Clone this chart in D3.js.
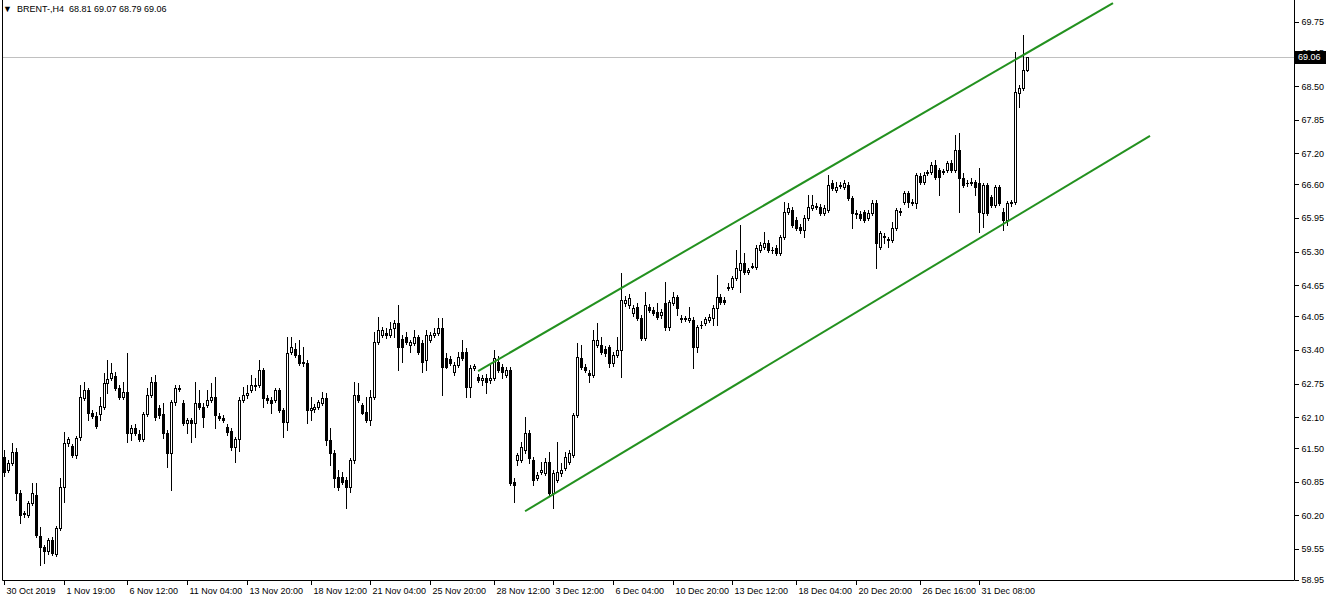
<!DOCTYPE html>
<html><head><meta charset="utf-8">
<script src="https://cdn.jsdelivr.net/npm/d3@7"></script>
<style>html,body{margin:0;padding:0;background:#fff;overflow:hidden}svg text{font-family:'Liberation Sans',Arial,sans-serif}</style>
</head><body>
<svg id="c" width="1332" height="601"></svg>
<script>
const symbolName = "BRENT-,H4";
const openP = [61.33,61.08,61.21,61.43,60.64,60.23,60.21,60.44,60.60,59.80,59.59,59.51,59.73,59.46,59.96,60.75,61.60,61.54,61.37,61.72,62.47,62.63,62.18,62.12,62.16,62.30,62.76,62.86,62.90,62.67,62.49,62.59,61.80,61.89,61.78,61.68,62.16,62.53,62.78,62.28,62.16,61.80,61.41,62.40,62.67,62.38,61.99,62.05,61.99,62.38,62.30,62.34,62.43,62.49,62.12,62.09,61.91,61.83,61.53,61.68,62.43,62.53,62.63,62.72,62.72,63.01,62.47,62.43,62.43,62.63,62.24,62.01,63.36,63.42,63.30,63.15,63.15,62.24,62.26,62.30,62.38,62.47,61.66,61.41,60.95,60.95,60.89,60.75,61.27,62.53,62.34,62.20,62.05,62.49,63.56,63.69,63.73,63.69,63.83,63.92,63.61,63.65,63.50,63.54,63.65,63.54,63.21,63.59,63.69,63.73,63.83,63.25,63.23,62.98,63.11,63.36,63.36,62.69,63.05,62.88,62.82,62.86,62.82,62.86,63.17,63.07,62.92,63.01,60.85,61.27,61.27,61.47,61.80,61.27,60.93,61.04,61.02,61.24,60.64,60.89,61.02,61.12,61.24,61.37,62.14,63.25,63.07,62.96,62.92,63.50,63.50,63.42,63.46,63.15,63.30,63.40,64.31,64.27,64.12,64.23,64.02,63.63,64.23,64.17,64.14,64.08,64.31,63.85,64.31,64.43,64.02,64.00,63.98,63.98,63.46,63.88,63.92,63.98,64.02,64.21,64.43,64.37,64.60,64.62,64.79,64.95,65.08,64.91,65.01,65.01,65.34,65.39,65.47,65.34,65.37,65.28,65.59,66.07,66.11,65.92,65.78,65.72,65.95,66.15,66.19,66.17,66.05,66.11,66.63,66.50,66.57,66.55,66.59,66.34,66.05,66.03,66.07,65.95,66.05,66.24,65.39,65.61,65.55,65.53,65.76,66.09,66.26,66.44,66.26,66.24,66.77,66.65,66.82,66.84,66.98,66.88,66.84,66.88,67.02,66.88,67.27,66.73,66.63,66.63,66.65,66.63,66.05,66.59,66.36,66.21,66.55,66.07,65.92,66.24,66.26,68.37,68.47,68.81];
const highP = [61.47,61.27,61.60,61.51,60.69,60.29,60.48,60.83,60.83,59.98,59.63,59.76,59.78,59.99,60.93,61.81,61.72,61.58,61.74,62.72,62.78,62.67,62.24,62.20,62.49,62.96,63.21,63.15,62.98,62.72,62.78,63.34,61.95,61.97,61.85,62.20,62.67,62.88,62.92,62.34,62.38,61.85,62.43,62.72,62.72,62.43,62.09,62.09,62.78,62.63,62.38,62.63,62.76,62.88,62.18,62.14,61.97,61.89,61.72,62.49,62.69,62.72,62.92,62.86,63.21,63.05,62.53,62.49,62.67,62.67,62.28,63.65,63.65,63.54,63.59,63.46,63.21,62.49,62.36,62.43,62.59,62.57,61.89,61.47,61.08,61.04,60.95,61.31,62.78,62.76,62.38,62.49,62.63,63.75,64.04,63.85,63.83,63.94,63.98,64.27,63.69,63.75,63.59,63.79,63.69,63.59,63.79,63.75,63.83,64.02,64.02,63.34,63.29,63.17,63.36,63.59,63.44,63.11,63.13,62.94,62.92,62.94,63.11,63.40,63.29,63.13,63.07,63.07,60.93,61.41,61.62,62.11,61.85,61.33,61.04,61.24,61.31,61.43,61.08,61.62,61.21,61.43,61.47,62.18,63.54,63.50,63.13,63.01,63.79,63.92,63.65,63.48,63.50,63.36,63.65,64.89,64.45,64.48,64.27,64.31,64.08,64.52,64.29,64.23,64.31,64.19,64.72,64.37,64.52,64.46,64.08,64.06,64.23,64.04,63.88,63.96,64.04,64.10,64.27,64.85,64.48,64.43,64.70,64.83,65.34,65.82,65.28,64.99,65.08,65.43,65.49,65.68,65.53,65.39,65.43,65.63,66.26,66.24,66.17,65.97,65.84,66.01,66.40,66.40,66.24,66.23,66.21,66.79,66.69,66.65,66.65,66.69,66.65,66.38,66.11,66.09,66.11,66.11,66.30,66.30,65.70,65.66,65.59,65.88,66.15,66.15,66.48,66.48,66.32,66.82,66.82,66.84,66.88,67.04,67.08,66.92,66.90,67.06,67.08,67.56,67.60,66.82,66.69,66.73,66.69,66.92,66.63,66.63,66.40,66.59,66.59,66.15,66.28,66.30,69.16,68.53,69.49,69.07];
const lowP = [60.96,61.04,61.18,60.50,60.05,60.17,60.17,60.40,59.78,59.24,59.28,59.46,59.44,59.42,59.92,60.46,61.54,61.33,61.31,61.66,62.43,62.05,62.09,61.89,62.05,62.26,62.57,62.82,62.63,62.45,62.45,61.62,61.66,61.76,61.64,61.64,62.12,62.49,62.05,62.09,61.70,61.14,60.69,62.34,62.61,61.95,61.80,61.62,61.72,62.26,61.91,62.30,62.40,61.89,62.05,62.01,61.76,61.47,61.23,61.45,62.40,62.47,62.59,62.63,62.69,62.30,62.38,62.18,62.40,62.20,61.72,61.85,63.32,63.27,63.11,63.09,61.99,62.05,62.20,62.26,62.34,61.56,61.18,60.75,60.69,60.81,60.35,60.65,61.21,62.40,62.16,62.01,61.95,62.45,63.52,63.65,63.63,63.65,63.65,63.01,63.17,63.52,63.36,63.50,63.32,62.98,63.01,63.56,63.65,63.69,62.53,63.05,63.11,62.92,63.07,63.21,62.49,62.49,63.01,62.78,62.72,62.57,62.76,62.82,62.98,62.86,62.88,60.79,60.46,61.18,61.24,61.41,61.22,60.79,60.89,61.00,60.98,60.60,60.35,60.85,60.96,61.08,61.20,61.33,62.10,63.03,62.98,62.78,62.88,63.46,63.32,63.29,63.07,63.09,63.27,62.88,64.25,64.21,64.06,63.98,63.59,63.59,64.14,64.08,64.00,64.02,63.79,63.79,64.27,64.08,63.94,63.96,63.94,63.05,63.36,63.83,63.88,63.94,63.88,63.88,64.29,64.29,64.56,64.58,64.75,64.52,64.87,64.87,64.99,64.97,65.30,65.35,65.30,65.28,65.24,65.24,65.55,66.03,65.78,65.72,65.66,65.59,65.92,66.11,66.13,66.01,66.01,66.07,66.50,66.46,66.53,66.51,66.30,65.76,65.95,65.92,65.88,65.92,66.01,64.99,65.35,65.47,65.39,65.49,65.72,66.01,66.22,66.17,66.21,66.15,66.61,66.61,66.79,66.80,66.71,66.40,66.80,66.84,66.84,66.84,66.07,66.55,66.57,66.59,66.40,65.68,65.78,66.01,66.17,66.17,66.21,65.72,65.82,66.19,66.22,68.10,68.43,68.79];
const closeP = [61.04,61.21,61.43,60.64,60.21,60.25,60.44,60.64,59.82,59.59,59.51,59.73,59.48,59.96,60.75,61.60,61.68,61.37,61.70,62.49,62.63,62.18,62.12,61.93,62.32,62.76,62.84,62.96,62.67,62.49,62.59,61.80,61.89,61.80,61.68,62.16,62.53,62.78,62.11,62.14,61.80,61.41,62.40,62.67,62.65,61.99,62.05,61.99,62.38,62.30,62.11,62.43,62.49,62.14,62.09,62.05,61.82,61.53,61.68,62.43,62.53,62.57,62.72,62.70,63.01,62.47,62.43,62.38,62.63,62.24,62.01,63.34,63.46,63.30,63.15,63.17,62.24,62.28,62.30,62.40,62.47,61.66,61.41,60.93,60.75,60.85,60.75,61.27,62.53,62.43,62.18,62.05,62.49,63.56,63.79,63.79,63.69,63.81,63.92,63.46,63.46,63.56,63.56,63.65,63.36,63.17,63.69,63.69,63.73,63.83,63.07,63.07,63.15,63.11,63.27,63.25,62.69,63.05,63.09,62.82,62.86,62.78,62.86,63.25,63.01,62.98,63.01,60.83,60.79,61.37,61.52,61.80,61.31,60.89,60.98,61.08,61.24,60.64,61.02,61.04,61.08,61.33,61.41,62.14,63.27,63.07,63.01,62.92,63.59,63.59,63.36,63.34,63.15,63.30,63.40,64.37,64.37,64.41,64.21,64.02,63.63,64.27,64.17,64.12,64.04,64.14,63.85,64.33,64.43,64.21,64.00,64.02,64.02,63.46,63.85,63.88,64.00,64.04,64.21,64.43,64.33,64.33,64.62,64.79,64.99,65.08,64.91,64.95,65.03,65.37,65.43,65.47,65.34,65.34,65.28,65.59,66.07,66.15,65.82,65.76,65.72,65.95,66.17,66.21,66.17,66.05,66.15,66.59,66.53,66.55,66.59,66.63,66.34,66.05,66.03,65.95,65.92,66.05,66.24,65.47,65.66,65.59,65.53,65.76,66.11,66.07,66.44,66.26,66.24,66.79,66.65,66.79,66.84,66.98,66.75,66.75,66.86,67.02,66.88,67.27,66.73,66.59,66.63,66.65,66.55,66.07,66.59,66.05,66.21,66.55,66.24,65.92,66.24,66.26,68.39,68.47,68.82,69.06];
const priceTicks = [58.95,59.55,60.20,60.85,61.50,62.10,62.75,63.40,64.05,64.65,65.30,65.95,66.60,67.20,67.85,68.50,69.15,69.75];
const timeTickIndex = [0,15,31,46,61,77,92,107,123,138,153,168,183,199,214,230,245];
const timeTickLabels = ["30 Oct 2019","1 Nov 19:00","6 Nov 12:00","11 Nov 04:00","13 Nov 20:00","18 Nov 12:00","21 Nov 04:00","25 Nov 20:00","28 Nov 12:00","3 Dec 12:00","6 Dec 04:00","10 Dec 20:00","13 Dec 12:00","18 Dec 04:00","20 Dec 20:00","26 Dec 16:00","31 Dec 08:00"];
const lastPrice = 69.06;
const channelUpper = [[119.1, 62.99], [278.6, 70.11]];
const channelLower = [[130.9, 60.28], [287.9, 67.54]];

const n = closeP.length;
const svg = d3.select("#c");
const plotL = 2, plotR = 1294, plotT = 0, plotB = 580;
const x = d3.scaleLinear().domain([0, n - 1]).range([4, 1027]);
const y = d3.scaleLinear().domain([58.95, lastPrice]).range([580, 57.3]);
const fmt = d3.format(".2f");

svg.append("defs").append("clipPath").attr("id", "plotclip")
  .append("rect").attr("x", plotL).attr("y", plotT).attr("width", plotR - plotL).attr("height", plotB - plotT);

// current price line
svg.append("line").attr("x1", plotL).attr("x2", plotR)
  .attr("y1", Math.round(y(lastPrice)) + 0.5).attr("y2", Math.round(y(lastPrice)) + 0.5)
  .attr("stroke", "#c0c0c0").attr("stroke-width", 1);

// candles
const g = svg.append("g").attr("clip-path", "url(#plotclip)").attr("shape-rendering", "crispEdges");
const idx = d3.range(n);
g.selectAll("line.wick").data(idx).join("line").attr("class", "wick")
  .attr("x1", i => Math.round(x(i)) + 0.5).attr("x2", i => Math.round(x(i)) + 0.5)
  .attr("y1", i => Math.round(y(highP[i]))).attr("y2", i => Math.round(y(lowP[i])) + 1)
  .attr("stroke", "#000").attr("stroke-width", 1);
idx.forEach(i => {
  const cx = Math.round(x(i));
  const top = Math.round(y(Math.max(openP[i], closeP[i])));
  const bot = Math.round(y(Math.min(openP[i], closeP[i])));
  const bull = closeP[i] > openP[i];
  if (bot - top < 1) {
    g.append("line").attr("x1", cx - 1).attr("x2", cx + 2).attr("y1", top + 0.5).attr("y2", top + 0.5)
      .attr("stroke", "#000").attr("stroke-width", 1);
  } else if (bull) {
    g.append("rect").attr("x", cx - 0.5).attr("y", top + 0.5).attr("width", 2).attr("height", bot - top)
      .attr("fill", "#fff").attr("stroke", "#000").attr("stroke-width", 1);
  } else {
    g.append("rect").attr("x", cx - 1).attr("y", top).attr("width", 3).attr("height", bot - top + 1)
      .attr("fill", "#000");
  }
});

// channel lines
const chan = svg.append("g").attr("clip-path", "url(#plotclip)");
[channelUpper, channelLower].forEach(seg => {
  chan.append("line")
    .attr("x1", x(seg[0][0])).attr("y1", y(seg[0][1]))
    .attr("x2", x(seg[1][0])).attr("y2", y(seg[1][1]))
    .attr("stroke", "#23911f").attr("stroke-width", 2);
});

// frame
svg.append("path").attr("d", `M${plotL + 0.5},${plotT}V${plotB + 0.5}H${plotR + 0.5}V${plotT}`)
  .attr("fill", "none").attr("stroke", "#000").attr("stroke-width", 1);

// price axis
const yAxis = d3.axisRight(y).tickValues(priceTicks).tickSize(4).tickPadding(3).tickFormat(fmt);
const ya = svg.append("g").attr("transform", `translate(${plotR + 0.5},0)`).call(yAxis);
ya.select(".domain").remove();
ya.selectAll("line").attr("stroke", "#000").attr("shape-rendering", "crispEdges");
ya.selectAll("text").attr("font-size", 9).attr("fill", "#000").attr("font-family", "'Liberation Sans',Arial,sans-serif");

// time axis
const xAxis = d3.axisBottom(x).tickValues(timeTickIndex).tickSize(4).tickPadding(3)
  .tickFormat((d, i) => timeTickLabels[i]);
const xa = svg.append("g").attr("transform", `translate(0,${plotB + 0.5})`).call(xAxis);
xa.select(".domain").remove();
xa.selectAll("line").attr("stroke", "#000").attr("shape-rendering", "crispEdges");
xa.selectAll(".tick").attr("transform", d => `translate(${Math.round(x(d)) + 0.5},0)`);
xa.selectAll("text").attr("font-size", 9).attr("fill", "#000").attr("text-anchor", "start").attr("x", 2)
  .attr("font-family", "'Liberation Sans',Arial,sans-serif");

// last price box
const ly = y(lastPrice);
svg.append("rect").attr("x", plotR + 1).attr("y", Math.round(ly) - 6).attr("width", 31).attr("height", 13).attr("fill", "#000");
svg.append("text").attr("x", plotR + 4).attr("y", ly).attr("dy", "0.34em").attr("font-size", 9)
  .attr("fill", "#fff").text(fmt(lastPrice));

// header
svg.append("text").attr("x", 3).attr("y", 12).attr("font-size", 9).attr("fill", "#000").text("\u25BC");
svg.append("text").attr("x", 17).attr("y", 12).attr("font-size", 9).attr("fill", "#000")
  .attr("xml:space", "preserve")
  .text(`${symbolName}  ${fmt(openP[n-1])} ${fmt(highP[n-1])} ${fmt(lowP[n-1])} ${fmt(closeP[n-1])}`);
</script>
</body></html>
